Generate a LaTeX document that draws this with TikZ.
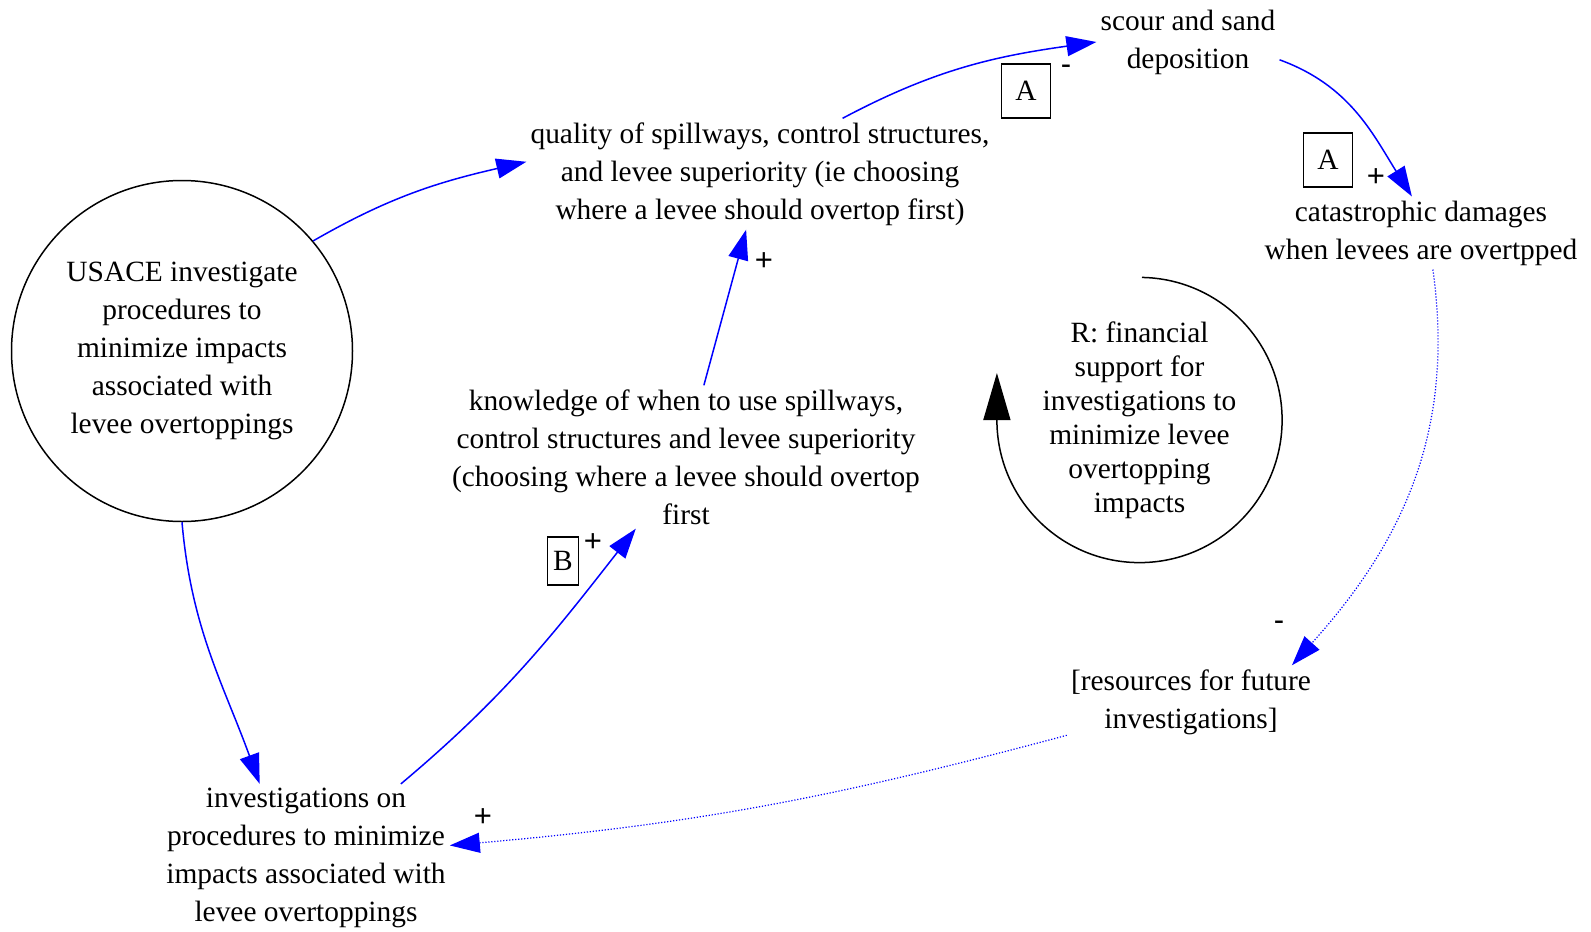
\documentclass[tikz,border=0pt]{standalone}
\usepackage{fontspec}
\setmainfont{Liberation Serif}
\newfontfamily\signfont{Liberation Sans}
\usepackage{tikz}
\usetikzlibrary{arrows.meta}
\definecolor{linkblue}{RGB}{0,0,255}

\begin{document}
\begin{tikzpicture}[x=1pt, y=1pt,
  var/.style={align=center, inner sep=4pt, font=\fontsize{29.4}{38}\selectfont},
  loopname/.style={align=center, inner sep=4pt, font=\fontsize{29.4}{34}\selectfont},
  box/.style={draw, line width=1.5pt, minimum width=49pt, minimum height=54pt, inner sep=0pt, font=\fontsize{29.4}{30}\selectfont},
  sign/.style={inner sep=0pt, font=\signfont\fontsize{31}{31}\selectfont},
  link/.style={draw=linkblue, line width=1.5pt, -{Triangle[length=30pt,width=20pt]}},
  dotlink/.style={link, line width=1.2pt, dash pattern=on 1.2pt off 1.8pt}]
\useasboundingbox (0,0) rectangle (1591,-932);

% variables
\node[var, draw, circle, line width=1.5pt, minimum size=341pt] (usace) at (182,-351) {USACE investigate\\procedures to\\minimize impacts\\associated with\\levee overtoppings};
\node[var] (quality) at (760,-174) {quality of spillways, control structures,\\and levee superiority (ie choosing\\where a levee should overtop first)};
\node[var] (scour) at (1188,-42) {scour and sand\\deposition};
\node[var] (damage) at (1421,-233) {catastrophic damages\\when levees are overtpped};
\node[var] (knowledge) at (686,-457) {knowledge of when to use spillways,\\control structures and levee superiority\\(choosing where a levee should overtop\\first};
\node[var] (resources) at (1191,-702) {[resources for future\\investigations]};
\node[var] (invest) at (306,-858) {investigations on\\procedures to minimize\\impacts associated with\\levee overtoppings};
\node[loopname] (loop) at (1139.5,-420) {R: financial\\support for\\investigations to\\minimize levee\\overtopping\\impacts};

% boxes and signs
\node[box] (boxA1) at (1026,-91) {A};
\node[box] (boxA2) at (1328,-160) {A};
\node[box, minimum width=31pt, minimum height=48pt] (boxB) at (563,-561) {B};
\node[sign] (sgnA1) at (1066,-70) {-};
\node[sign] (sgnA2) at (1376,-178) {+};
\node[sign] (sgnB) at (593,-543) {+};
\node[sign] (sgnK) at (764,-262) {+};
\node[sign] (sgnR) at (1279,-626) {-};
\node[sign] (sgnI) at (483,-818) {+};

% links
\draw[link] (usace.40) to[out=30, in=193] (quality.177);
\draw[link] (quality.34) to[out=28, in=188] (scour.west);
\draw[link] (scour.-11) to[out=-20, in=122] (damage.104);
\draw[dotlink] (damage.-72) to[out=-82, in=48] (resources.20);
\draw[dotlink] (resources.195) to[out=195, in=5] (invest.5);
\draw[link] (usace.south) to[out=-85, in=110] (invest.122);
\draw[link] (invest.38) to[out=40, in=-128] (knowledge.235);
\draw[link] (knowledge.76) -- (quality.256);

% loop
\draw[line width=1.5pt, -{Triangle[length=47pt,width=27pt]}] ([shift={(89:142.6pt)}]loop.center) arc[start angle=89, end angle=-180, radius=142.6pt] -- ++(0,47);
\end{tikzpicture}
\end{document}
